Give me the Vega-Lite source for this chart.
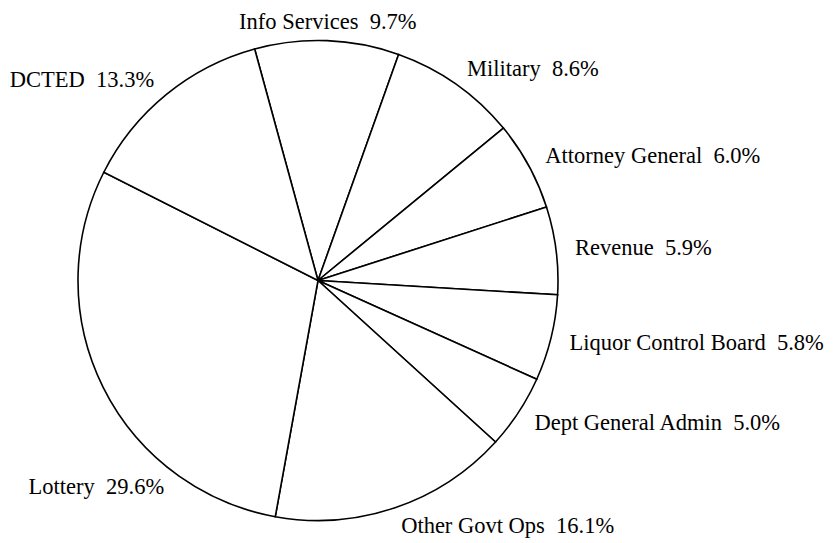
{
  "$schema": "https://vega.github.io/schema/vega-lite/v6.json",
  "width": 636,
  "height": 543,
  "autosize": {"type": "none"},
  "padding": {"left": 0, "top": 9, "right": 202, "bottom": 0},
  "background": "white",
  "config": {"view": {"stroke": null}},
  "data": {
    "values": [
      {"ord": 1, "name": "Info Services", "pct": 9.7, "label": "Info Services\u00a0 9.7%"},
      {"ord": 2, "name": "Military", "pct": 8.6, "label": "Military\u00a0 8.6%"},
      {"ord": 3, "name": "Attorney General", "pct": 6.0, "label": "Attorney General\u00a0 6.0%"},
      {"ord": 4, "name": "Revenue", "pct": 5.9, "label": "Revenue\u00a0 5.9%"},
      {"ord": 5, "name": "Liquor Control Board", "pct": 5.8, "label": "Liquor Control Board\u00a0 5.8%"},
      {"ord": 6, "name": "Dept General Admin", "pct": 5.0, "label": "Dept General Admin\u00a0 5.0%"},
      {"ord": 7, "name": "Other Govt Ops", "pct": 16.1, "label": "Other Govt Ops\u00a0 16.1%"},
      {"ord": 8, "name": "Lottery", "pct": 29.6, "label": "Lottery\u00a0 29.6%"},
      {"ord": 9, "name": "DCTED", "pct": 13.3, "label": "DCTED\u00a0 13.3%"}
    ]
  },
  "encoding": {
    "theta": {"field": "pct", "type": "quantitative", "stack": true,
      "scale": {"domain": [0, 100], "range": [-0.267, 6.016]}},
    "order": {"field": "ord", "type": "quantitative"}
  },
  "layer": [
    {
      "mark": {"type": "arc", "outerRadius": 240, "fill": "white", "stroke": "black", "strokeWidth": 1.6}
    },
    {
      "mark": {"type": "text", "radius": 259, "align": "center", "baseline": "middle", "font": "Liberation Serif", "fontSize": 22.5, "color": "black"},
      "encoding": {
        "text": {"condition": {"test": {"field": "name", "oneOf": ["Info Services"]}, "field": "label"}, "value": ""}
      }
    },
    {
      "mark": {"type": "text", "radius": 259, "align": "left", "baseline": "middle", "font": "Liberation Serif", "fontSize": 22.5, "color": "black"},
      "encoding": {
        "text": {"condition": {"test": {"field": "name", "oneOf": ["Military", "Attorney General", "Revenue", "Liquor Control Board", "Dept General Admin", "Other Govt Ops"]}, "field": "label"}, "value": ""}
      }
    },
    {
      "mark": {"type": "text", "radius": 259, "align": "right", "baseline": "middle", "font": "Liberation Serif", "fontSize": 22.5, "color": "black"},
      "encoding": {
        "text": {"condition": {"test": {"field": "name", "oneOf": ["DCTED"]}, "field": "label"}, "value": ""}
      }
    },
    {
      "mark": {"type": "text", "radius": 259, "align": "right", "baseline": "middle", "dx": 78, "dy": 91, "font": "Liberation Serif", "fontSize": 22.5, "color": "black"},
      "encoding": {
        "text": {"condition": {"test": {"field": "name", "oneOf": ["Lottery"]}, "field": "label"}, "value": ""}
      }
    }
  ]
}
